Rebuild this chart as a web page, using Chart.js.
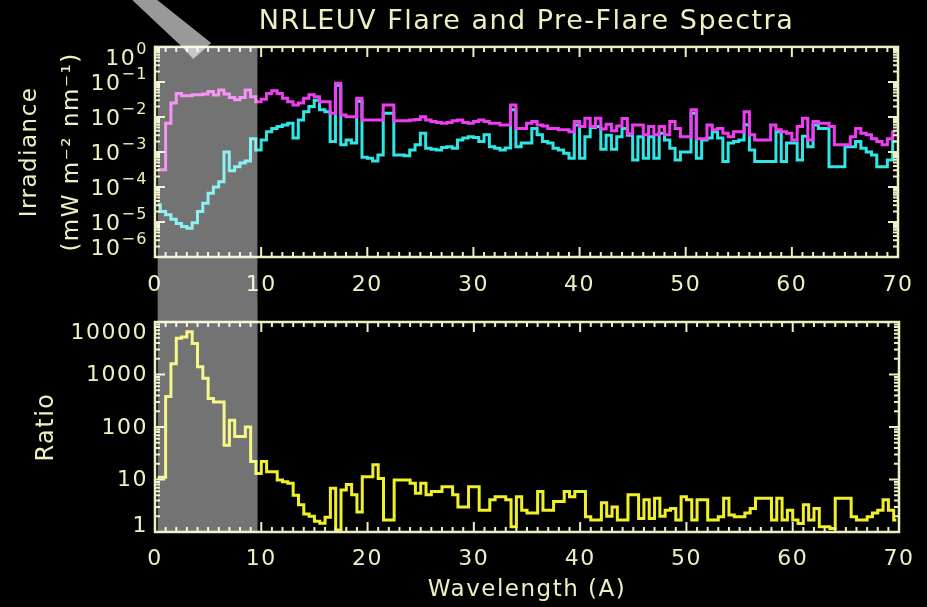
<!DOCTYPE html>
<html>
<head>
<meta charset="utf-8">
<title>NRLEUV Flare and Pre-Flare Spectra</title>
<script src="https://cdn.jsdelivr.net/npm/chart.js@4.4.1/dist/chart.umd.min.js"></script>
<style>
  html, body { margin: 0; padding: 0; background: #000; }
  #wrap { position: relative; width: 927px; height: 607px; background: #000; overflow: hidden; }
  .panel { position: absolute; left: 0; }
</style>
</head>
<body>
<div id="wrap">
  <div class="panel" style="top:0"><canvas id="chartIrradiance" width="927" height="300"></canvas></div>
  <div class="panel" style="top:300px"><canvas id="chartRatio" width="927" height="307"></canvas></div>
</div>
<script>
//* DATOS (wavelength bin centres in A, 0.5 A bins)
const wavelength = [
  0.25, 0.75, 1.25, 1.75, 2.25, 2.75, 3.25, 3.75, 4.25, 4.75,
  5.25, 5.75, 6.25, 6.75, 7.25, 7.75, 8.25, 8.75, 9.25, 9.75,
  10.25, 10.75, 11.25, 11.75, 12.25, 12.75, 13.25, 13.75, 14.25, 14.75,
  15.25, 15.75, 16.25, 16.75, 17.25, 17.75, 18.25, 18.75, 19.25, 19.75,
  20.25, 20.75, 21.25, 21.75, 22.25, 22.75, 23.25, 23.75, 24.25, 24.75,
  25.25, 25.75, 26.25, 26.75, 27.25, 27.75, 28.25, 28.75, 29.25, 29.75,
  30.25, 30.75, 31.25, 31.75, 32.25, 32.75, 33.25, 33.75, 34.25, 34.75,
  35.25, 35.75, 36.25, 36.75, 37.25, 37.75, 38.25, 38.75, 39.25, 39.75,
  40.25, 40.75, 41.25, 41.75, 42.25, 42.75, 43.25, 43.75, 44.25, 44.75,
  45.25, 45.75, 46.25, 46.75, 47.25, 47.75, 48.25, 48.75, 49.25, 49.75,
  50.25, 50.75, 51.25, 51.75, 52.25, 52.75, 53.25, 53.75, 54.25, 54.75,
  55.25, 55.75, 56.25, 56.75, 57.25, 57.75, 58.25, 58.75, 59.25, 59.75,
  60.25, 60.75, 61.25, 61.75, 62.25, 62.75, 63.25, 63.75, 64.25, 64.75,
  65.25, 65.75, 66.25, 66.75, 67.25, 67.75, 68.25, 68.75, 69.25, 69.75
];

// flare irradiance (mW m-2 nm-1), magenta
const flare = [
  3.1e-4, 3.1e-4, 6.6e-3, 2.5e-2, 4.7e-2, 4.0e-2, 4.0e-2, 4.3e-2, 4.3e-2, 4.5e-2,
  5.3e-2, 4.2e-2, 5.9e-2, 4.5e-2, 3.6e-2, 3.1e-2, 3.6e-2, 5.9e-2, 3.8e-2, 2.7e-2,
  3.2e-2, 4.7e-2, 5.6e-2, 4.7e-2, 3.4e-2, 2.7e-2, 2.2e-2, 2.5e-2, 3.4e-2, 4.3e-2,
  3.8e-2, 2.7e-2, 2.7e-2, 1.27e-2, 9.2e-2, 1.14e-2, 1.02e-2, 1.02e-2, 3.4e-2, 8.2e-3,
  8.2e-3, 8.2e-3, 8.2e-3, 2.2e-2, 2.2e-2, 7.8e-3, 7.8e-3, 7.8e-3, 8.2e-3, 8.5e-3,
  1.02e-2, 8.2e-3, 7.4e-3, 6.9e-3, 6.6e-3, 6.9e-3, 7.8e-3, 8.2e-3, 6.9e-3, 6.6e-3,
  7.4e-3, 8.2e-3, 7.4e-3, 6.6e-3, 6.6e-3, 5.9e-3, 5.9e-3, 2.2e-2, 4.7e-3, 4.7e-3,
  6.6e-3, 7.4e-3, 5.9e-3, 5.5e-3, 4.7e-3, 4.7e-3, 4.3e-3, 4.3e-3, 3.8e-3, 7.4e-3,
  5.3e-3, 9.2e-3, 5.3e-3, 9.2e-3, 4.5e-3, 6.2e-3, 4.0e-3, 5.5e-3, 9.0e-3, 3.3e-3,
  5.9e-3, 5.9e-3, 3.1e-3, 5.3e-3, 3.1e-3, 5.3e-3, 3.1e-3, 7.4e-3, 4.7e-3, 2.7e-3,
  2.7e-3, 1.6e-2, 2.4e-3, 2.4e-3, 5.9e-3, 4.3e-3, 4.7e-3, 3.4e-3, 2.7e-3, 3.8e-3,
  3.8e-3, 1.4e-2, 3.1e-3, 2.2e-3, 2.2e-3, 2.2e-3, 5.9e-3, 4.3e-3, 3.8e-3, 3.4e-3,
  2.2e-3, 5.3e-3, 9.2e-3, 2.2e-3, 7.4e-3, 6.6e-3, 6.6e-3, 5.3e-3, 1.6e-3, 1.6e-3,
  1.6e-3, 2.7e-3, 4.7e-3, 3.4e-3, 3.1e-3, 2.4e-3, 2.0e-3, 1.6e-3, 2.4e-3, 3.8e-3
];

// pre-flare irradiance (mW m-2 nm-1), cyan
const preFlare = [
  3.1e-5, 2.0e-5, 1.6e-5, 1.2e-5, 9.0e-6, 7.4e-6, 6.6e-6, 9.5e-6, 2.0e-5, 3.4e-5,
  6.6e-5, 1.0e-4, 1.4e-4, 1.0e-3, 2.9e-4, 3.8e-4, 4.8e-4, 5.5e-4, 2.4e-3, 1.14e-3,
  2.2e-3, 3.8e-3, 4.7e-3, 5.3e-3, 5.9e-3, 6.6e-3, 2.5e-3, 8.2e-3, 1.4e-2, 2.0e-2,
  3.0e-2, 1.6e-2, 1.4e-2, 2.0e-3, 8.0e-2, 1.6e-3, 2.2e-3, 1.8e-3, 2.8e-2, 7.0e-4,
  6.6e-4, 5.5e-4, 8.2e-4, 1.27e-2, 1.27e-2, 8.2e-4, 8.2e-4, 7.8e-4, 1.14e-3, 1.6e-3,
  3.4e-3, 1.27e-3, 1.2e-3, 1.14e-3, 1.35e-3, 1.4e-3, 1.27e-3, 2.2e-3, 2.5e-3, 2.7e-3,
  2.6e-3, 2.0e-3, 3.1e-3, 1.4e-3, 1.27e-3, 1.14e-3, 1.3e-3, 1.6e-2, 1.4e-3, 1.8e-3,
  1.8e-3, 4.7e-3, 3.1e-3, 2.0e-3, 1.8e-3, 1.27e-3, 1.14e-3, 9.2e-4, 6.6e-4, 5.9e-3,
  6.6e-4, 2.7e-3, 5.0e-3, 5.3e-3, 1.2e-3, 3.0e-3, 1.2e-3, 2.7e-3, 4.7e-3, 3.0e-3,
  5.9e-4, 2.7e-3, 6.6e-4, 2.7e-3, 6.6e-4, 3.4e-3, 2.2e-3, 1.27e-3, 5.9e-4, 1.0e-3,
  1.0e-3, 1.27e-2, 6.6e-4, 2.2e-3, 2.5e-3, 3.8e-3, 2.5e-3, 5.3e-4, 1.8e-3, 2.0e-3,
  2.2e-3, 6.0e-3, 1.14e-3, 5.3e-4, 5.3e-4, 5.3e-4, 5.3e-4, 3.8e-3, 5.3e-4, 1.8e-3,
  1.8e-3, 5.9e-4, 2.8e-3, 1.4e-3, 5.9e-3, 4.7e-3, 4.7e-3, 3.8e-4, 3.8e-4, 3.8e-4,
  1.4e-3, 1.4e-3, 2.0e-3, 1.27e-3, 1.0e-3, 8.2e-4, 3.8e-4, 3.8e-4, 5.9e-4, 2.0e-3
];

// flare / pre-flare ratio, yellow
const ratio = [
  11, 11, 380, 1600, 4900, 5200, 6500, 3900, 1400, 850,
  350, 300, 300, 45, 135, 66, 66, 100, 22, 13,
  22, 14, 14, 9.8, 9.1, 8.5, 5.0, 3.3, 2.2, 2.0,
  1.6, 1.46, 1.9, 6.8, 1.09, 6.3, 8.0, 5.1, 2.4, 11.3,
  11.3, 19, 10.5, 1.7, 1.7, 9.8, 9.8, 9.8, 8.5, 5.5,
  8.5, 5.1, 5.9, 5.9, 7.3, 7.3, 5.1, 3.0, 3.0, 7.3,
  7.3, 2.6, 2.6, 4.1, 4.7, 4.7, 4.1, 1.26, 4.7, 2.6,
  2.3, 2.3, 5.9, 2.6, 2.6, 3.8, 3.8, 5.9, 4.7, 5.9,
  5.9, 1.95, 1.7, 1.7, 3.6, 2.0, 3.0, 1.7, 1.7, 5.1,
  5.1, 1.8, 4.1, 1.8, 4.4, 2.0, 2.6, 2.8, 1.7, 4.7,
  4.1, 1.7, 4.1, 4.1, 1.7, 1.7, 1.95, 4.4, 2.1, 1.95,
  1.95, 2.3, 2.8, 4.4, 4.4, 4.4, 1.7, 4.4, 1.7, 2.6,
  1.7, 1.45, 3.3, 1.7, 2.8, 1.26, 1.26, 1.17, 4.4, 4.4,
  4.4, 1.95, 1.7, 1.7, 1.95, 2.3, 2.6, 4.1, 2.6, 1.7
];

// tick values
const xTicks = [0, 10, 20, 30, 40, 50, 60, 70];
const irrExponents = [0, -1, -2, -3, -4, -5, -6];
const ratioTicks = [1, 10, 100, 1000, 10000];
// highlighted wavelength band (A)
const bandStart = 0.25, bandEnd = 9.65;

const textColor = '#efefc4';
const FONT = "'DejaVu Sans', 'Liberation Sans', sans-serif";
Chart.defaults.font.family = FONT;
Chart.defaults.color = textColor;

const sup = (s) => s.replace(/-/g, '\u207B').replace(/\d/g, d => '\u2070\u00B9\u00B2\u00B3\u2074\u2075\u2076\u2077\u2078\u2079'[d]);

//* frame + inward ticks like the IDL plot
function drawFrame(chart) {
    const { ctx, chartArea: a, scales: { x, y } } = chart;
    ctx.save();
    ctx.strokeStyle = textColor;
    ctx.lineWidth = 2;
    ctx.beginPath();
    for (let v = x.min; v <= x.max; v++) {
        const px = x.getPixelForValue(v);
        const len = v % 10 === 0 ? 10 : 5;
        ctx.moveTo(px, a.bottom); ctx.lineTo(px, a.bottom - len);
        ctx.moveTo(px, a.top); ctx.lineTo(px, a.top + len);
    }
    const dMin = Math.round(Math.log10(y.min)), dMax = Math.round(Math.log10(y.max));
    for (let d = dMin; d <= dMax; d++) {
        for (let m = 1; m <= 9; m++) {
            const v = m * Math.pow(10, d);
            if (v < y.min * 0.999 || v > y.max * 1.001) continue;
            const py = y.getPixelForValue(v);
            const len = m === 1 ? 10 : 5;
            ctx.moveTo(a.left, py); ctx.lineTo(a.left + len, py);
            ctx.moveTo(a.right, py); ctx.lineTo(a.right - len, py);
        }
    }
    ctx.stroke();
    ctx.lineWidth = 2.5;
    ctx.strokeRect(a.left, a.top, a.right - a.left, a.bottom - a.top);
    ctx.restore();
}

function drawYLabels(chart, items, clampTop, clampBottom) {
    const { ctx, chartArea: a, scales: { y } } = chart;
    ctx.save();
    ctx.fillStyle = textColor;
    ctx.textBaseline = 'middle';
    ctx.textAlign = 'right';
    const xr = a.left - 7;
    items.forEach(it => {
        let py = y.getPixelForValue(it.value);
        py = Math.min(Math.max(py, a.top + clampTop), a.bottom - clampBottom);
        if (it.exp !== undefined) {
            ctx.font = '16px ' + FONT;
            const e = String(it.exp).replace('-', '\u2212');
            const ew = ctx.measureText(e).width;
            ctx.fillText(e, xr, py - 7);
            ctx.font = '22px ' + FONT;
            ctx.fillText('10', xr - ew, py + 2);
        } else {
            ctx.font = '22px ' + FONT;
            ctx.fillText(it.label, xr, py + 1);
        }
    });
    ctx.restore();
}

function drawBand(chart, top, bottom) {
    const { ctx, scales: { x } } = chart;
    const x0 = x.getPixelForValue(bandStart), x1 = x.getPixelForValue(bandEnd);
    ctx.save();
    ctx.fillStyle = 'rgba(255,255,255,0.45)';
    ctx.fillRect(x0, top, x1 - x0, bottom - top);
    ctx.restore();
}

// wider letter spacing, closer to the IDL vector font
const spacingPlugin = {
    id: 'letterSpacing',
    beforeDraw(chart) { chart.ctx.letterSpacing = '1.5px'; }
};

const irradiancePlugin = {
    id: 'irradianceDecor',
    afterDatasetsDraw(chart) {
        drawFrame(chart);
        drawYLabels(chart, irrExponents.map(e => ({ value: Math.pow(10, e), exp: e })), 10, 10);
    },
    afterDraw(chart) {
        const { ctx, chartArea: a, scales: { x } } = chart;
        drawBand(chart, a.top, chart.height);
        // pointer stripe at the top of the band
        const tx = x.getPixelForValue(3.6), ty = a.top + 12;
        ctx.save();
        ctx.fillStyle = 'rgba(255,255,255,0.6)';
        ctx.beginPath();
        ctx.moveTo(tx - 61, 0);
        ctx.lineTo(tx - 36, 0);
        ctx.lineTo(tx + 18, ty - 16);
        ctx.lineTo(tx, ty);
        ctx.lineTo(tx - 11, ty - 12);
        ctx.closePath();
        ctx.fill();
        ctx.restore();
    }
};

const ratioPlugin = {
    id: 'ratioDecor',
    afterDatasetsDraw(chart) {
        drawFrame(chart);
        drawYLabels(chart, ratioTicks.map(v => ({ value: v, label: String(v) })), 10, 7);
    },
    afterDraw(chart) {
        drawBand(chart, 0, chart.chartArea.bottom);
    }
};

const xAxis = (height, pad, extra) => Object.assign({
    type: 'linear',
    min: 0,
    max: 70,
    grid: { display: false, drawTicks: false },
    border: { display: false },
    afterBuildTicks: s => { s.ticks = xTicks.map(v => ({ value: v })); },
    ticks: { color: textColor, font: { size: 22 }, padding: pad, maxRotation: 0, autoSkip: false },
    afterFit: s => { s.height = height; }
}, extra);

const lineStyle = (color) => ({
    borderColor: color,
    borderWidth: 3,
    pointRadius: 0,
    stepped: 'middle',
    fill: false
});

const toXY = (vals) => wavelength.map((w, i) => ({ x: w, y: vals[i] }));

new Chart(document.getElementById('chartIrradiance'), {
    type: 'line',
    data: {
        datasets: [
            Object.assign({ label: 'Flare', data: toXY(flare) }, lineStyle('#f03cf0')),
            Object.assign({ label: 'Pre-Flare', data: toXY(preFlare) }, lineStyle('#2ee6e6'))
        ]
    },
    options: {
        responsive: false,
        animation: false,
        events: [],
        layout: { padding: { left: 0, right: 28, top: 0, bottom: 0 } },
        plugins: {
            legend: { display: false },
            tooltip: { enabled: false },
            title: {
                display: true,
                text: 'NRLEUV Flare and Pre-Flare Spectra',
                color: textColor,
                font: { size: 27, weight: 'normal' },
                padding: { top: 6, bottom: 8.5 },
                fullSize: false
            }
        },
        scales: {
            x: xAxis(43, 15),
            y: {
                type: 'logarithmic',
                min: 1e-6,
                max: 1,
                grid: { display: false, drawTicks: false },
                border: { display: false },
                ticks: { display: false },
                title: {
                    display: true,
                    text: ['Irradiance', '(mW m' + sup('-2') + ' nm' + sup('-1') + ')'],
                    color: textColor,
                    font: { size: 23, lineHeight: 1.83 },
                    padding: { top: 9 }
                },
                afterFit: s => { s.width = 155; }
            }
        }
    },
    plugins: [spacingPlugin, irradiancePlugin]
});

new Chart(document.getElementById('chartRatio'), {
    type: 'line',
    data: {
        datasets: [
            Object.assign({ label: 'Ratio', data: toXY(ratio) }, lineStyle('#f0f028'))
        ]
    },
    options: {
        responsive: false,
        animation: false,
        events: [],
        layout: { padding: { left: 0, right: 28, top: 22, bottom: 0 } },
        plugins: {
            legend: { display: false },
            tooltip: { enabled: false }
        },
        scales: {
            x: xAxis(75, 14, {
                title: {
                    display: true,
                    text: 'Wavelength (A)',
                    color: textColor,
                    font: { size: 23 },
                    padding: { bottom: 3 }
                }
            }),
            y: {
                type: 'logarithmic',
                min: 1,
                max: 10000,
                grid: { display: false, drawTicks: false },
                border: { display: false },
                ticks: { display: false },
                title: {
                    display: true,
                    text: 'Ratio',
                    color: textColor,
                    font: { size: 24 },
                    padding: { top: 32 }
                },
                afterFit: s => { s.width = 155; }
            }
        }
    },
    plugins: [spacingPlugin, ratioPlugin]
});
</script>
</body>
</html>
